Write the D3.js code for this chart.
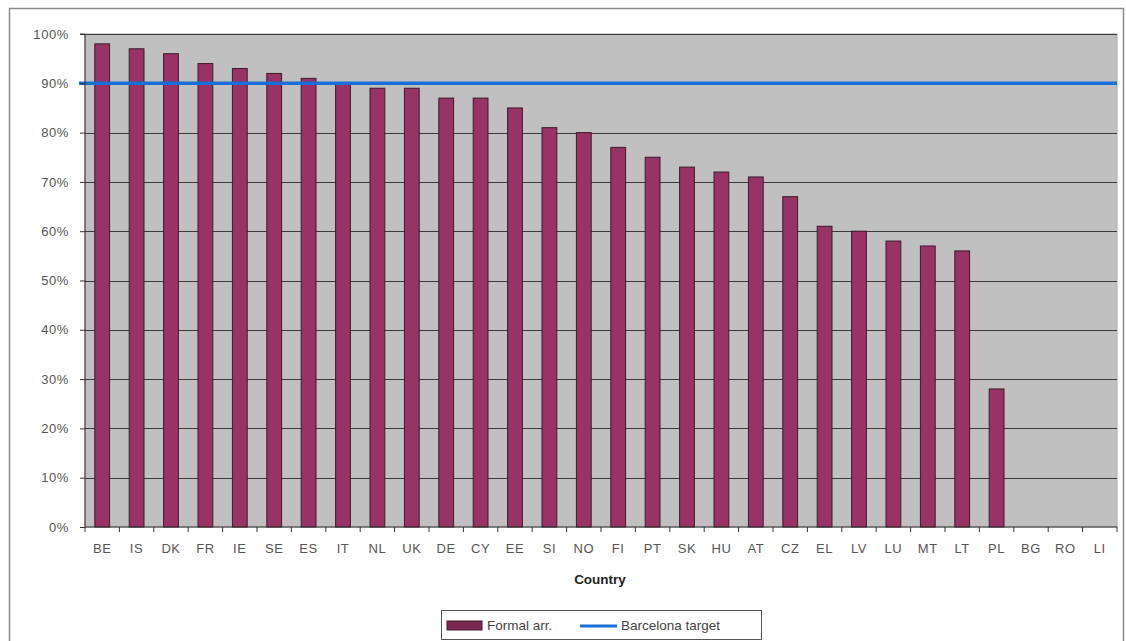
<!DOCTYPE html>
<html>
<head>
<meta charset="utf-8">
<script src="https://cdn.jsdelivr.net/npm/d3@7"></script>
<style>
  html, body { margin: 0; padding: 0; background: #fff; }
  svg { display: block; font-family: Arial, "Liberation Sans", sans-serif; }
</style>
</head>
<body>
<svg id="chart" width="1126" height="641"></svg>
<script>
const countries = ["BE","IS","DK","FR","IE","SE","ES","IT","NL","UK","DE","CY","EE","SI","NO","FI","PT","SK","HU","AT","CZ","EL","LV","LU","MT","LT","PL","BG","RO","LI"];
const formalArr = [98,97,96,94,93,92,91,90,89,89,87,87,85,81,80,77,75,73,72,71,67,61,60,58,57,56,28,0,0,0];
const barcelonaTarget = 90;
const yTicks = [0,10,20,30,40,50,60,70,80,90,100];
const seriesNames = ["Formal arr.", "Barcelona target"];

const svg = d3.select("#chart");
const m = { left: 85, top: 34, right: 1117, bottom: 527 };

// outer frame
svg.append("rect").attr("x", 9.5).attr("y", 8.5).attr("width", 1114).attr("height", 640)
  .attr("fill", "#fff").attr("stroke", "#8a8a8a").attr("stroke-width", 1.5);

const x = d3.scaleBand().domain(countries).range([m.left, m.right]).paddingInner(0.57).paddingOuter(0.285);
const xb = d3.scaleBand().domain(countries).range([m.left, m.right]);
const y = d3.scaleLinear().domain([0, 100]).range([m.bottom, m.top]);

// plot area
svg.append("rect").attr("x", m.left).attr("y", m.top).attr("width", m.right - m.left).attr("height", m.bottom - m.top)
  .attr("fill", "#c0c0c0").attr("stroke", "#a8a8a8").attr("stroke-width", 1);

// gridlines
svg.append("g").selectAll("line").data(yTicks.filter(d => d > 0)).join("line")
  .attr("x1", m.left).attr("x2", m.right)
  .attr("y1", d => Math.round(y(d)) + 0.5).attr("y2", d => Math.round(y(d)) + 0.5)
  .attr("stroke", "#3a3a3a").attr("stroke-width", 1);

// bars
svg.append("g").selectAll("rect").data(countries.map((c, i) => ({ c, v: formalArr[i] })).filter(d => d.v > 0)).join("rect")
  .attr("x", d => x(d.c)).attr("width", x.bandwidth())
  .attr("y", d => y(d.v)).attr("height", d => y(0) - y(d.v))
  .attr("fill", "#993366").attr("stroke", "#3a1a2a").attr("stroke-width", 1);

// target line
svg.append("line").attr("x1", m.left - 6).attr("x2", m.right)
  .attr("y1", y(barcelonaTarget)).attr("y2", y(barcelonaTarget))
  .attr("stroke", "#1a6fd6").attr("stroke-width", 3.5);

// y axis
const yAxis = d3.axisLeft(y).tickValues(yTicks).tickFormat(d => d + "%").tickSize(5).tickPadding(11);
const gy = svg.append("g").attr("transform", `translate(${m.left},0)`).call(yAxis);
gy.select(".domain").attr("stroke", "#333").attr("d", `M-5,${m.top}H0V${m.bottom}`);
gy.selectAll(".tick line").attr("stroke", "#333");
gy.selectAll(".tick text").attr("fill", "#555").style("font-size", "13px").style("letter-spacing", "0.6px");

// x axis
const xAxis = d3.axisBottom(xb).tickSize(0).tickPadding(17);
const gx = svg.append("g").attr("transform", `translate(0,${m.bottom})`).call(xAxis);
gx.select(".domain").attr("stroke", "#333").attr("d", `M${m.left},0H${m.right}`);
gx.selectAll(".tick text").attr("fill", "#555").style("font-size", "13px").style("letter-spacing", "0.6px");
// tick marks between categories
svg.append("g").selectAll("line").data(d3.range(countries.length + 1)).join("line")
  .attr("x1", i => m.left + i * xb.step()).attr("x2", i => m.left + i * xb.step())
  .attr("y1", m.bottom).attr("y2", m.bottom + 5)
  .attr("stroke", "#333").attr("stroke-width", 1);

// axis title
svg.append("text").attr("x", 600).attr("y", 584).attr("text-anchor", "middle")
  .style("font-size", "13.5px").style("font-weight", "bold").attr("fill", "#222").text("Country");

// legend
const lg = svg.append("g");
lg.append("rect").attr("x", 441.5).attr("y", 610.5).attr("width", 320).attr("height", 29)
  .attr("fill", "#fff").attr("stroke", "#555").attr("stroke-width", 1);
lg.append("rect").attr("x", 447).attr("y", 621).attr("width", 35).attr("height", 9)
  .attr("fill", "#7a2a50").attr("stroke", "#3a1a2a");
lg.append("text").attr("x", 487).attr("y", 630).style("font-size", "13.5px").attr("fill", "#444").text(seriesNames[0]);
lg.append("line").attr("x1", 580).attr("x2", 617).attr("y1", 626).attr("y2", 626)
  .attr("stroke", "#1a6fd6").attr("stroke-width", 3);
lg.append("text").attr("x", 621).attr("y", 630).style("font-size", "13.5px").attr("fill", "#444").text(seriesNames[1]);
</script>
</body>
</html>
